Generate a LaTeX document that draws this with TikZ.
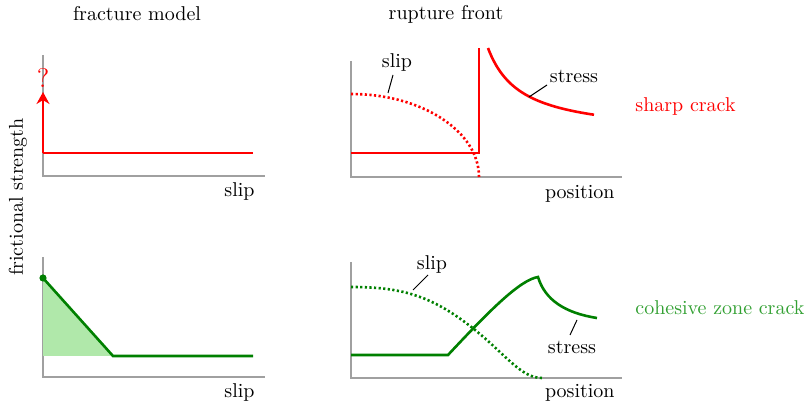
\documentclass[tikz,border=0pt]{standalone}
\usetikzlibrary{arrows.meta}
\definecolor{axgray}{RGB}{160,160,160}
\definecolor{dgreen}{RGB}{0,128,0}
\definecolor{lgreen}{RGB}{50,160,50}
\definecolor{fgreen}{RGB}{176,232,170}
\begin{document}
\begin{tikzpicture}[x=0.5pt,y=-0.5pt,
  axis/.style={draw=axgray,line width=1.1pt},
  curve/.style={line width=1.3pt},
  dotcurve/.style={line width=1.3pt,dash pattern=on 1.1pt off 1.2pt},
  leader/.style={draw=black,line width=0.5pt},
  lab/.style={inner sep=0pt}]
\useasboundingbox (0,0) rectangle (808,410);
% titles
\node[lab] (t1) at (137,14) {fracture model};
\node[lab] (t2) at (446,14) {rupture front};
\node[lab,rotate=90] (ylab) at (18,197) {frictional strength};
\node[lab,text=red,anchor=west] (sc) at (635,107) {sharp crack};
\node[lab,text=lgreen,anchor=west] (cz) at (635,308) {cohesive zone crack};
% axes
\coordinate (a1o) at (43,176); \coordinate (a1t) at (43,55); \coordinate (a1r) at (265,176);
\coordinate (a2o) at (351,177); \coordinate (a2t) at (351,61); \coordinate (a2r) at (622,177);
\coordinate (a3o) at (43,377); \coordinate (a3t) at (43,257); \coordinate (a3r) at (265,377);
\coordinate (a4o) at (351,378); \coordinate (a4t) at (351,262); \coordinate (a4r) at (622,378);
\draw[axis] (a1t) -- (a1o) -- (a1r);
\draw[axis] (a2t) -- (a2o) -- (a2r);
\draw[axis] (a3t) -- (a3o) -- (a3r);
\draw[axis] (a4t) -- (a4o) -- (a4r);
\node[lab,anchor=east] (x1) at (255,192) {slip};
\node[lab,anchor=east] (x2) at (615,194) {position};
\node[lab,anchor=east] (x3) at (255,393) {slip};
\node[lab,anchor=east] (x4) at (615,393) {position};
% top-left: sharp crack model
\coordinate (r1) at (43,153); \coordinate (r2) at (253,153); \coordinate (r3) at (43,92);
\draw[curve,red] (r2) -- (r1);
\draw[curve,red,-{Stealth[length=6pt,width=6.5pt]}] (r1) -- (r3);
\node[lab,text=red,font=\fontsize{13.5}{13.5}\selectfont] (q) at (43,78) {?};
% top-right: sharp crack front
\draw[dotcurve,red] (351,94) arc[start angle=270,end angle=360,x radius=128,y radius=83];
\draw[curve,red] (351,153) -- (479,153) -- (479,48);
\draw[curve,red] plot[domain=488:594,samples=60] (\x,{135.5-2887/(\x-455)});
\node[lab] (sl1) at (397,63) {slip};
\draw[leader] (393,75) -- (388,93);
\node[lab] (st1) at (574,76) {stress};
\draw[leader] (547,85) -- (529,97);
% bottom-left: cohesive zone model
\fill[fgreen] (43,278) -- (113,356) -- (43,356) -- cycle;
\draw[curve,dgreen] (43,278) -- (113,356) -- (253,356);
\fill[dgreen] (43,278) circle[radius=3.6];
% bottom-right: cohesive zone front
\draw[dotcurve,dgreen] (351,287) .. controls (400,287) and (430,295) .. (470,326)
   .. controls (505,353) and (520,378) .. (542,378);
\draw[curve,dgreen] (351,355) -- (448,355) .. controls (490,310) and (520,280) .. (538,277)
   .. controls (545,300) and (565,313) .. (597,318);
\node[lab] (sl2) at (432,265) {slip};
\draw[leader] (428,275) -- (413,290);
\node[lab] (st2) at (572,347) {stress};
\draw[leader] (577,320) -- (570,335);
\end{tikzpicture}
\end{document}
